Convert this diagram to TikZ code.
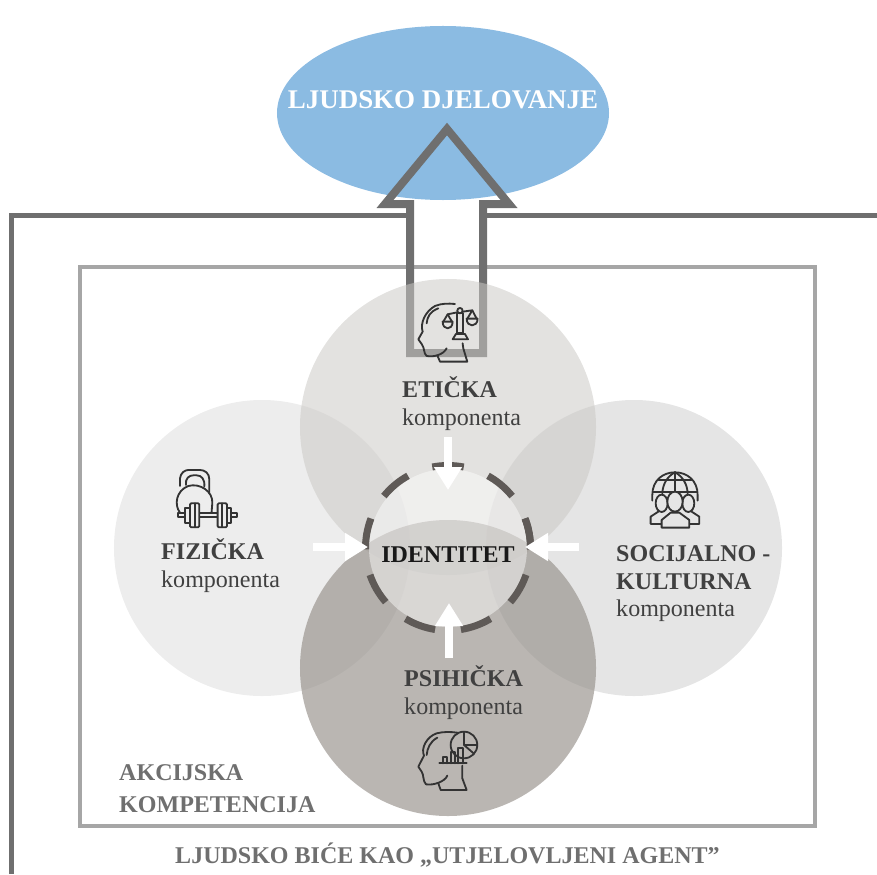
\documentclass[tikz,border=0pt]{standalone}
\usepackage{fontspec}
\setmainfont{Liberation Serif}
\usetikzlibrary{arrows.meta,shapes.geometric}
\definecolor{framegray}{HTML}{6F6F6F}
\definecolor{boxgray}{HTML}{A6A6A6}
\definecolor{ringgray}{HTML}{5F5A57}
\definecolor{icongray}{HTML}{333333}
\definecolor{labelgray}{HTML}{404040}
\definecolor{goalblue}{HTML}{8BBBE2}
\definecolor{etickagray}{HTML}{CBC9C5}
\definecolor{psihickagray}{HTML}{958F89}
\tikzset{
  part/.style={circle, minimum size=8.88cm, inner sep=0pt},
  bigtext/.style={font=\fontsize{20.5}{24}\selectfont, anchor=base west, inner sep=0pt, text=labelgray},
  headtext/.style={bigtext, font=\fontsize{20.5}{24}\selectfont\bfseries},
  boxtext/.style={headtext, text=framegray},
  toident/.style={draw=white, line width=0.26cm, -{Triangle[length=0.69cm, width=0.80cm]}},
  icon/.style={draw=icongray, line width=0.055cm, line join=round, line cap=round},
}
\begin{document}
\begin{tikzpicture}[x=0.03cm, y=-0.03cm]
  \useasboundingbox (0,0) rectangle (877,874);
  \node[ellipse, fill=goalblue, minimum width=9.96cm, minimum height=5.22cm, inner sep=0pt] (djelovanje) at (443,113) {};
  \node[font=\fontsize{23}{27}\selectfont\bfseries, text=white, inner sep=0pt] (djelovanjetext) at (443,100) {LJUDSKO DJELOVANJE};
  % frames
  \draw[framegray, line width=0.15cm] (11,874) -- (11,215) -- (410,215);
  \draw[framegray, line width=0.15cm] (483,215) -- (877,215);
  \draw[boxgray, line width=0.12cm] (80,267) rectangle (815,826);
  % big arrow
  \draw[framegray, line width=0.24cm, miter limit=10] (410,353) -- (410,204) -- (385,204) -- (447,129) -- (509,204) -- (483,204) -- (483,353) -- cycle;
  % components
  \node[part, fill=black!7] (fizicka) at (262,548) {};
  \node[part, fill=black!10] (socijalna) at (634,548) {};
  \node[part, fill=etickagray, fill opacity=0.54] (eticka) at (448,427) {};
  \node[part, fill=psihickagray, fill opacity=0.65] (psihicka) at (448,668) {};
  \node[circle, fill=white, fill opacity=0.45, minimum size=4.74cm, inner sep=0pt] (identitet) at (448,548) {};
  \foreach \a in {10,50,...,370}
    \draw[ringgray, line width=0.21cm] (448,548) ++(-\a-11:82.5) arc[start angle=-\a-11, end angle=-\a+11, radius=82.5];
  % arrows to the centre
  \coordinate (etickastart) at (448,437);
  \coordinate (etickatip) at (448,490);
  \coordinate (fizickastart) at (313,547);
  \coordinate (fizickatip) at (368,547);
  \coordinate (socijalnastart) at (579,547);
  \coordinate (socijalnatip) at (525,547);
  \coordinate (psihickastart) at (449,658);
  \coordinate (psihickatip) at (449,603);
  \draw[toident] (etickastart) -- (etickatip);
  \draw[toident] (fizickastart) -- (fizickatip);
  \draw[toident] (socijalnastart) -- (socijalnatip);
  \draw[toident] (psihickastart) -- (psihickatip);
  % labels
  \node[headtext, anchor=base, text=black!90] (identitettext) at (448,562) {IDENTITET};
  \node[headtext] (etickatext) at (402,397) {ETIČKA};
  \node[bigtext] (etickakomp) at (402,425) {komponenta};
  \node[headtext] (fizickatext) at (161,559) {FIZIČKA};
  \node[bigtext] (fizickakomp) at (161,587) {komponenta};
  \node[headtext] (socijalnatext) at (616,561) {SOCIJALNO -};
  \node[headtext] (kulturnatext) at (616,589) {KULTURNA};
  \node[bigtext] (socijalnakomp) at (616,616) {komponenta};
  \node[headtext] (psihickatext) at (404,686) {PSIHIČKA};
  \node[bigtext] (psihickakomp) at (404,714) {komponenta};
  \node[boxtext] (akcijska) at (119,780) {AKCIJSKA};
  \node[boxtext] (kompetencija) at (119,812) {KOMPETENCIJA};
  \node[boxtext, font=\fontsize{20.5}{24}\selectfont\bfseries] (agent) at (175,863) {LJUDSKO BIĆE KAO „UTJELOVLJENI AGENT”};
  % head with scales
  \begin{scope}[shift={(380,280)}, x=0.01cm, y=-0.01cm]
    \draw[icon] (200,205) .. controls (190,225) and (160,232) .. (140,228) .. controls (130,220) and (135,205) .. (125,192) -- (115,178) -- (128,155) .. controls (120,130) and (135,95) .. (165,78) .. controls (185,70) and (205,70) .. (225,72);
    \draw[icon] (172,226) -- (180,245) -- (262,245) -- (250,205) -- (248,190);
    \draw[icon] (140,130) .. controls (142,110) and (150,95) .. (175,85);
    \draw[icon] (232,98) rectangle (248,160);
    \draw[icon] (240,92) circle[radius=8];
    \draw[icon] (228,162) -- (255,162) -- (264,178) -- (218,178) -- cycle;
    \draw[icon] (232,97) -- (203,103) -- (190,125);
    \draw[icon] (203,103) -- (216,125);
    \draw[icon] (218,125) -- (188,125) .. controls (188,152) and (218,152) .. (218,125);
    \draw[icon] (248,95) -- (277,91) -- (262,116);
    \draw[icon] (277,91) -- (290,116);
    \draw[icon] (293,116) -- (260,116) .. controls (260,143) and (293,143) .. (293,116);
  \end{scope}
  % kettlebell and barbell
  \begin{scope}[shift={(150,450)}, x=0.01cm, y=-0.01cm]
    \draw[icon] (90,108) -- (90,85) .. controls (92,68) and (105,60) .. (115,60) -- (150,60) .. controls (165,60) and (178,70) .. (178,88) -- (178,130);
    \draw[icon] (108,105) .. controls (105,85) and (118,76) .. (130,76) -- (140,76) .. controls (155,76) and (165,88) .. (163,110);
    \draw[icon] (90,188) .. controls (72,165) and (78,122) .. (115,108) .. controls (150,98) and (190,125) .. (187,160) -- (185,185);
    \draw[icon] (85,188) rectangle (262,200);
    \draw[icon, fill=black!7] (105,175) rectangle (120,220);
    \draw[icon, fill=black!7, rounded corners=1pt] (120,160) rectangle (148,232);
    \draw[icon] (134,160) -- (134,232);
    \draw[icon, fill=black!7, rounded corners=1pt] (203,160) rectangle (231,232);
    \draw[icon] (217,160) -- (217,232);
    \draw[icon, fill=black!7] (231,175) rectangle (242,220);
  \end{scope}
  % globe and people
  \begin{scope}[shift={(620,450)}, x=0.01cm, y=-0.01cm]
    \draw[icon] (97,152) -- (97,135) .. controls (97,90) and (130,67) .. (165,67) .. controls (200,67) and (233,90) .. (233,135) -- (233,152);
    \draw[icon] (165,67) -- (165,125);
    \draw[icon] (165,67) .. controls (140,80) and (128,105) .. (127,130);
    \draw[icon] (165,67) .. controls (190,80) and (202,105) .. (203,130);
    \draw[icon] (116,90) -- (214,90);
    \draw[icon] (100,127) -- (230,127);
    \draw[icon, fill=black!10] (125,160) ellipse[x radius=18, y radius=26];
    \draw[icon, fill=black!10] (205,160) ellipse[x radius=18, y radius=26];
    \draw[icon] (122,222) -- (92,222) -- (92,200) -- (115,185);
    \draw[icon] (208,222) -- (238,222) -- (238,200) -- (215,185);
    \draw[icon, fill=black!10] (165,155) ellipse[x radius=23, y radius=30];
    \draw[icon, fill=black!10] (125,233) -- (125,210) -- (152,188) -- (178,188) -- (208,210) -- (208,233) -- cycle;
  \end{scope}
  % head with chart
  \begin{scope}[shift={(400,715)}, x=0.01cm, y=-0.01cm]
    \draw[icon] (142,182) .. controls (135,200) and (100,212) .. (78,208) .. controls (68,198) and (72,180) .. (65,170) -- (55,155) -- (72,122) .. controls (62,100) and (80,65) .. (110,55) .. controls (130,50) and (150,50) .. (172,53);
    \draw[icon] (115,205) -- (122,225) -- (200,225) -- (187,190) -- (187,152);
    \draw[icon] (80,120) .. controls (82,100) and (90,80) .. (112,68);
    \draw[icon] (192,90) circle[radius=40];
    \draw[icon] (192,50) -- (192,90) -- (232,90);
    \draw[icon] (192,90) -- (222,116);
    \draw[icon] (118,145) -- (200,145);
    \draw[icon] (128,145) -- (128,125) -- (140,125) -- (140,145);
    \draw[icon] (152,145) -- (152,112) -- (165,112) -- (165,145);
    \draw[icon] (175,145) -- (175,100) -- (190,100) -- (190,145);
  \end{scope}
\end{tikzpicture}
\end{document}
